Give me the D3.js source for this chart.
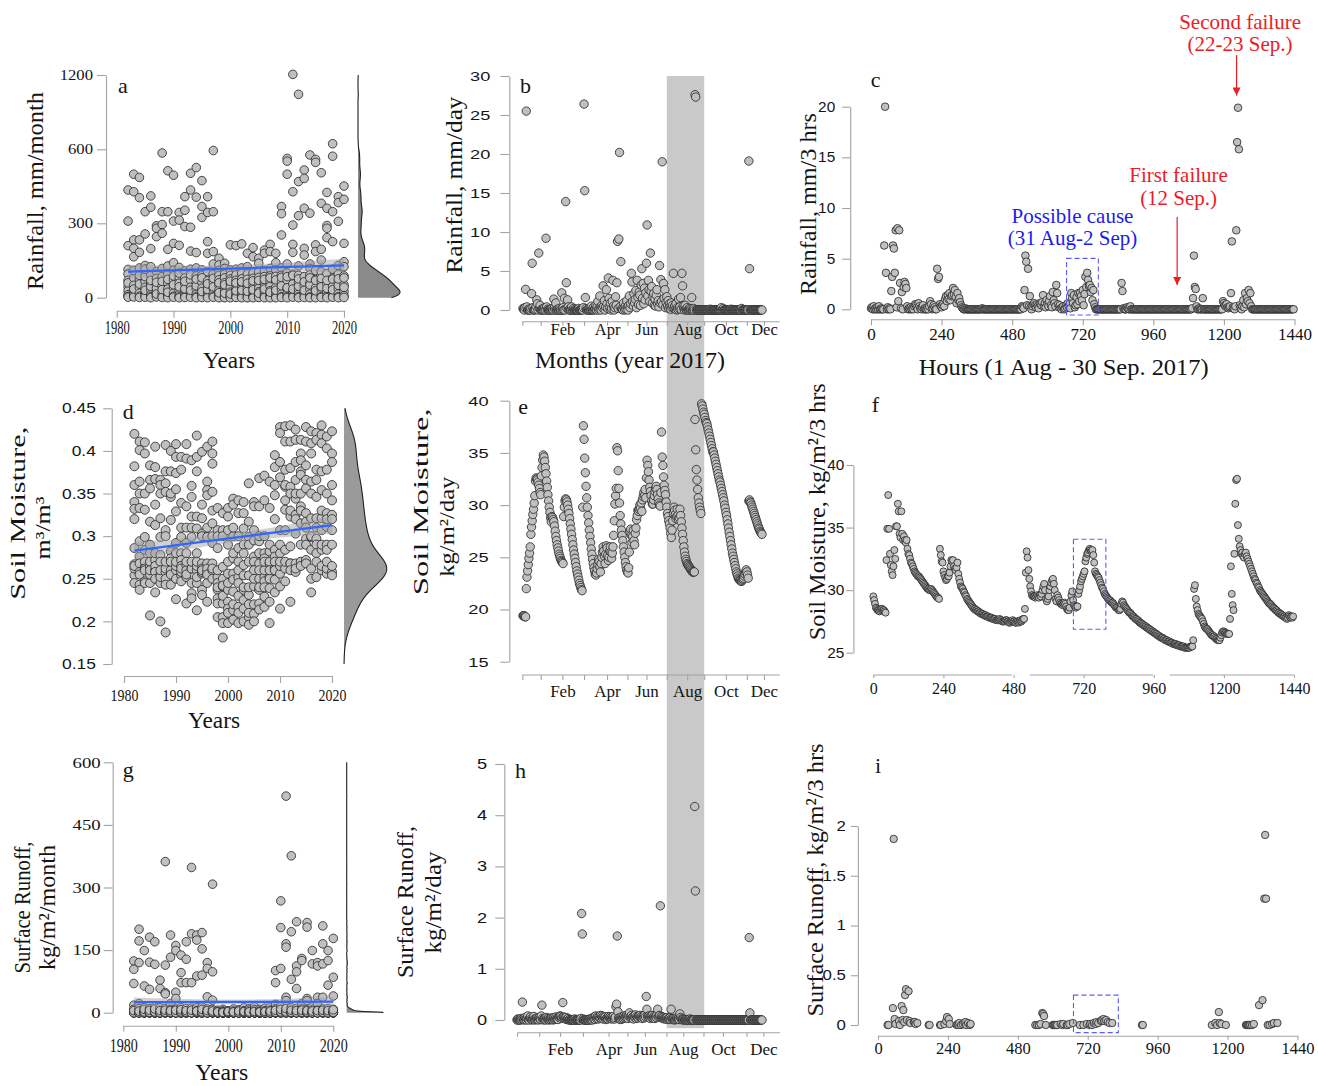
<!DOCTYPE html>
<html lang="en">
<head>
<meta charset="utf-8">
<title>Rainfall, soil moisture and surface runoff</title>
<script src="https://cdn.jsdelivr.net/npm/d3@7"></script>
<style>
  html, body { margin: 0; padding: 0; background: #fff; }
  svg { display: block; }
</style>
</head>
<body>
<svg id="fig" width="1318" height="1086"></svg>
<script>
// ======================= data =======================
// Monthly series, one row per year (12 monthly values per row)
const years = [1982, 1983, 1984, 1985, 1986, 1987, 1988, 1989, 1990, 1991, 1992, 1993, 1994,
  1995, 1996, 1997, 1998, 1999, 2000, 2001, 2002, 2003, 2004, 2005, 2006, 2007, 2008,
  2009, 2010, 2011, 2012, 2013, 2014, 2015, 2016, 2017, 2018, 2019, 2020];

// Rainfall, mm/month
const rainMonthly = [
  [435, 309, 210, 114, 95, 70, 45, 28, 12, 5, 2, 60],
  [499, 428, 233, 199, 165, 80, 50, 25, 10, 3, 35, 110],
  [486, 404, 233, 183, 120, 75, 40, 18, 6, 1, 55, 90],
  [347, 257, 130, 100, 65, 42, 20, 8, 2, 30, 85, 115],
  [411, 365, 198, 125, 90, 55, 30, 12, 4, 0, 45, 70],
  [290, 280, 246, 105, 78, 50, 25, 10, 3, 38, 62, 15],
  [585, 347, 295, 260, 118, 85, 48, 20, 7, 1, 33, 66],
  [513, 347, 195, 128, 96, 60, 35, 15, 5, 0, 22, 74],
  [495, 309, 219, 141, 110, 72, 40, 18, 6, 2, 52, 88],
  [344, 313, 211, 122, 84, 58, 30, 12, 3, 0, 44, 99],
  [408, 353, 287, 108, 80, 55, 28, 10, 4, 1, 36, 66],
  [503, 435, 284, 188, 115, 70, 42, 20, 6, 2, 30, 92],
  [526, 406, 182, 120, 88, 60, 35, 14, 5, 0, 48, 75],
  [473, 368, 324, 112, 90, 62, 38, 16, 4, 1, 25, 80],
  [408, 344, 226, 179, 105, 68, 40, 18, 6, 0, 33, 56],
  [595, 347, 186, 136, 95, 64, 36, 15, 5, 2, 44, 78],
  [159, 132, 110, 90, 72, 50, 30, 12, 3, 0, 20, 60],
  [139, 118, 95, 80, 60, 42, 25, 10, 2, 0, 18, 52],
  [213, 112, 90, 75, 58, 40, 22, 8, 2, 0, 15, 66],
  [210, 115, 92, 70, 52, 35, 20, 9, 3, 1, 28, 60],
  [217, 120, 98, 76, 55, 38, 24, 10, 2, 0, 30, 64],
  [179, 125, 96, 74, 50, 36, 20, 8, 1, 0, 26, 58],
  [202, 165, 100, 78, 56, 40, 22, 9, 3, 0, 32, 68],
  [159, 139, 105, 82, 60, 38, 24, 10, 2, 1, 18, 70],
  [192, 179, 110, 85, 62, 44, 26, 12, 4, 0, 35, 74],
  [215, 186, 118, 88, 66, 46, 28, 10, 3, 0, 22, 80],
  [179, 141, 112, 86, 64, 42, 25, 9, 2, 0, 30, 72],
  [368, 339, 253, 120, 90, 62, 35, 15, 4, 1, 48, 82],
  [563, 552, 499, 136, 100, 70, 38, 16, 5, 0, 40, 85],
  [1205, 428, 293, 215, 183, 95, 55, 24, 8, 2, 35, 90],
  [1044, 469, 331, 128, 90, 60, 32, 14, 4, 0, 46, 76],
  [516, 482, 361, 199, 172, 85, 48, 20, 6, 1, 30, 64],
  [577, 341, 136, 118, 92, 60, 34, 14, 3, 0, 52, 80],
  [559, 547, 213, 186, 110, 72, 40, 16, 5, 0, 28, 70],
  [505, 381, 195, 152, 105, 66, 36, 14, 4, 1, 44, 78],
  [425, 361, 291, 280, 242, 98, 55, 22, 6, 0, 38, 70],
  [645, 572, 347, 226, 115, 80, 45, 18, 5, 2, 32, 75],
  [408, 384, 308, 130, 95, 64, 36, 15, 4, 0, 50, 76],
  [451, 397, 219, 145, 125, 88, 52, 25, 8, 1, 42, 80]
];

// Soil moisture, m3/m3
const soilMonthly = [
  [0.42, 0.382, 0.36, 0.34, 0.332, 0.32, 0.286, 0.267, 0.254, 0.245, 0.262, 0.265],
  [0.411, 0.401, 0.364, 0.35, 0.333, 0.294, 0.276, 0.268, 0.243, 0.237, 0.258, 0.255],
  [0.41, 0.397, 0.331, 0.299, 0.284, 0.264, 0.247, 0.245, 0.27, 0.262, 0.26, 0.35],
  [0.383, 0.366, 0.356, 0.317, 0.28, 0.264, 0.245, 0.207, 0.27, 0.255, 0.26, 0.29],
  [0.405, 0.381, 0.367, 0.337, 0.313, 0.272, 0.26, 0.234, 0.265, 0.28, 0.258, 0.25],
  [0.366, 0.36, 0.321, 0.299, 0.278, 0.254, 0.245, 0.20, 0.35, 0.27, 0.252, 0.26],
  [0.407, 0.376, 0.362, 0.352, 0.307, 0.258, 0.25, 0.243, 0.187, 0.262, 0.30, 0.27],
  [0.40, 0.376, 0.346, 0.319, 0.282, 0.274, 0.258, 0.243, 0.26, 0.27, 0.255, 0.35],
  [0.408, 0.393, 0.374, 0.329, 0.292, 0.26, 0.25, 0.226, 0.265, 0.28, 0.27, 0.355],
  [0.393, 0.378, 0.339, 0.299, 0.28, 0.272, 0.254, 0.247, 0.31, 0.258, 0.265, 0.262],
  [0.408, 0.391, 0.335, 0.292, 0.28, 0.266, 0.252, 0.221, 0.26, 0.31, 0.27, 0.255],
  [0.389, 0.359, 0.346, 0.323, 0.299, 0.262, 0.245, 0.233, 0.227, 0.262, 0.31, 0.27],
  [0.418, 0.393, 0.376, 0.323, 0.309, 0.26, 0.245, 0.213, 0.265, 0.28, 0.27, 0.252],
  [0.399, 0.337, 0.321, 0.303, 0.268, 0.256, 0.237, 0.231, 0.258, 0.30, 0.262, 0.26],
  [0.405, 0.364, 0.354, 0.348, 0.299, 0.268, 0.258, 0.245, 0.223, 0.31, 0.262, 0.255],
  [0.411, 0.397, 0.385, 0.352, 0.315, 0.292, 0.268, 0.26, 0.262, 0.30, 0.25, 0.33],
  [0.333, 0.307, 0.286, 0.252, 0.237, 0.227, 0.221, 0.205, 0.26, 0.245, 0.24, 0.30],
  [0.327, 0.307, 0.264, 0.241, 0.221, 0.205, 0.198, 0.181, 0.25, 0.242, 0.23, 0.30],
  [0.333, 0.323, 0.307, 0.256, 0.237, 0.223, 0.215, 0.198, 0.27, 0.29, 0.245, 0.21],
  [0.344, 0.337, 0.274, 0.256, 0.249, 0.235, 0.213, 0.202, 0.30, 0.28, 0.22, 0.31],
  [0.342, 0.327, 0.286, 0.27, 0.252, 0.245, 0.217, 0.198, 0.30, 0.23, 0.26, 0.21],
  [0.34, 0.327, 0.309, 0.266, 0.254, 0.237, 0.225, 0.215, 0.29, 0.28, 0.20, 0.24],
  [0.362, 0.317, 0.299, 0.29, 0.254, 0.231, 0.205, 0.196, 0.22, 0.27, 0.24, 0.21],
  [0.34, 0.335, 0.307, 0.295, 0.276, 0.241, 0.209, 0.20, 0.27, 0.22, 0.26, 0.25],
  [0.368, 0.335, 0.294, 0.268, 0.25, 0.237, 0.221, 0.214, 0.28, 0.26, 0.24, 0.30],
  [0.371, 0.342, 0.28, 0.274, 0.252, 0.247, 0.229, 0.217, 0.26, 0.30, 0.24, 0.27],
  [0.364, 0.333, 0.282, 0.268, 0.252, 0.239, 0.223, 0.198, 0.27, 0.25, 0.29, 0.26],
  [0.395, 0.381, 0.36, 0.348, 0.284, 0.276, 0.249, 0.234, 0.262, 0.27, 0.26, 0.32],
  [0.428, 0.421, 0.387, 0.369, 0.307, 0.28, 0.256, 0.241, 0.215, 0.265, 0.29, 0.27],
  [0.429, 0.411, 0.378, 0.358, 0.342, 0.331, 0.307, 0.284, 0.247, 0.36, 0.262, 0.27],
  [0.43, 0.411, 0.38, 0.358, 0.323, 0.288, 0.268, 0.223, 0.35, 0.268, 0.26, 0.33],
  [0.425, 0.413, 0.387, 0.366, 0.344, 0.325, 0.303, 0.268, 0.258, 0.32, 0.262, 0.35],
  [0.413, 0.397, 0.389, 0.376, 0.372, 0.335, 0.315, 0.29, 0.27, 0.35, 0.265, 0.33],
  [0.428, 0.411, 0.383, 0.366, 0.356, 0.327, 0.317, 0.297, 0.272, 0.268, 0.31, 0.29],
  [0.423, 0.409, 0.397, 0.364, 0.321, 0.299, 0.284, 0.25, 0.234, 0.35, 0.262, 0.30],
  [0.421, 0.413, 0.378, 0.366, 0.346, 0.321, 0.297, 0.29, 0.28, 0.252, 0.31, 0.27],
  [0.43, 0.419, 0.409, 0.376, 0.354, 0.321, 0.307, 0.284, 0.26, 0.265, 0.33, 0.29],
  [0.417, 0.403, 0.378, 0.35, 0.327, 0.311, 0.29, 0.284, 0.256, 0.262, 0.32, 0.27],
  [0.423, 0.397, 0.387, 0.36, 0.342, 0.325, 0.307, 0.258, 0.254, 0.265, 0.32, 0.29]
];

// Surface runoff, kg/m2/month
const runoffMonthly = [
  [124, 104, 70, 18, 8, 3, 0, 0, 0, 0, 0, 5],
  [200, 172, 120, 22, 10, 2, 0, 0, 0, 0, 0, 4],
  [149, 64, 12, 5, 0, 0, 0, 0, 0, 0, 2, 8],
  [181, 121, 56, 10, 4, 0, 0, 0, 0, 0, 1, 6],
  [170, 116, 14, 6, 0, 0, 0, 0, 0, 0, 2, 9],
  [78, 58, 12, 3, 0, 0, 0, 0, 0, 0, 0, 5],
  [362, 114, 48, 45, 10, 2, 0, 0, 0, 0, 1, 6],
  [186, 133, 22, 8, 2, 0, 0, 0, 0, 0, 1, 5],
  [161, 149, 49, 34, 9, 3, 0, 0, 0, 0, 0, 6],
  [138, 96, 72, 12, 4, 0, 0, 0, 0, 0, 2, 7],
  [170, 128, 72, 10, 3, 0, 0, 0, 0, 0, 1, 5],
  [348, 189, 72, 11, 4, 0, 0, 0, 0, 0, 0, 6],
  [186, 174, 88, 12, 5, 0, 0, 0, 0, 0, 1, 4],
  [192, 153, 90, 14, 3, 0, 0, 0, 0, 0, 2, 8],
  [120, 106, 38, 9, 2, 0, 0, 0, 0, 0, 0, 5],
  [308, 98, 30, 8, 3, 0, 0, 0, 0, 0, 1, 4],
  [6, 3, 1, 0, 0, 0, 0, 0, 0, 0, 0, 2],
  [8, 4, 2, 0, 0, 0, 0, 0, 0, 0, 0, 1],
  [5, 2, 0, 0, 0, 0, 0, 0, 0, 0, 1, 3],
  [9, 4, 1, 0, 0, 0, 0, 0, 0, 0, 0, 2],
  [7, 3, 1, 0, 0, 0, 0, 0, 0, 0, 0, 4],
  [12, 5, 2, 0, 0, 0, 0, 0, 0, 0, 1, 3],
  [10, 6, 1, 0, 0, 0, 0, 0, 0, 0, 0, 2],
  [14, 7, 2, 0, 0, 0, 0, 0, 0, 0, 0, 3],
  [8, 4, 1, 0, 0, 0, 0, 0, 0, 0, 1, 2],
  [11, 5, 2, 0, 0, 0, 0, 0, 0, 0, 0, 3],
  [13, 6, 2, 0, 0, 0, 0, 0, 0, 0, 0, 4],
  [101, 72, 20, 9, 3, 0, 0, 0, 0, 0, 1, 6],
  [268, 204, 106, 15, 5, 0, 0, 0, 0, 0, 2, 8],
  [519, 165, 157, 37, 29, 8, 0, 0, 0, 0, 2, 10],
  [376, 194, 80, 12, 4, 0, 0, 0, 0, 0, 1, 6],
  [218, 112, 98, 58, 10, 3, 0, 0, 0, 0, 0, 5],
  [130, 125, 22, 9, 2, 0, 0, 0, 0, 0, 1, 6],
  [216, 205, 34, 29, 8, 2, 0, 0, 0, 0, 1, 5],
  [149, 117, 14, 7, 2, 0, 0, 0, 0, 0, 0, 4],
  [120, 112, 37, 22, 6, 1, 0, 0, 0, 0, 0, 5],
  [208, 165, 117, 37, 9, 2, 0, 0, 0, 0, 1, 6],
  [149, 125, 66, 10, 3, 0, 0, 0, 0, 0, 0, 5],
  [178, 85, 40, 8, 2, 0, 0, 0, 0, 0, 1, 7]
];

// Daily series for 2017, day-of-year index 0..364
const rainDaily = [
  0.2, 0.1, 0, 0.3, 2.65, 25.5, 0.4, 0, 0, 0.1,
  0, 0, 0.2, 2.1, 6, 0.3, 0, 0, 0, 0.1,
  0.5, 1.3, 0.8, 0, 7.3, 0.2, 0.6, 0, 0, 0.1,
  0, 0.2, 0, 0.3, 0, 9.2, 0.4, 0, 0.1, 0,
  0, 0, 0.1, 0, 0.2, 0, 0, 1.4, 0.3, 0,
  0.9, 0, 0, 0.1, 0, 0, 0.2, 0, 0, 2.2,
  0, 0.3, 0, 1.5, 0, 13.9, 3.5, 0.2, 1.3, 0.4,
  0, 0.1, 0, 0, 0.4, 0, 0, 0.2, 0, 0,
  0, 0.1, 0, 0, 0, 0.2, 0, 0, 0, 0,
  0.1, 0, 0.3, 26.4, 15.3, 1.6, 0.2, 0, 0, 0.1,
  0, 0, 0.2, 0, 0.5, 0, 0, 0.3, 0, 0.1,
  0.2, 0.6, 0, 0.4, 1.1, 0, 0.2, 1.8, 0.4, 0,
  0.6, 0.3, 3.1, 0.5, 1.2, 0, 0.4, 2.6, 0.8, 0.2,
  4.1, 1.5, 0.3, 0.9, 0, 0.2, 1.1, 3.8, 0.5, 0,
  0.3, 1.7, 0.6, 3.5, 8.8, 0.2, 9.1, 20.2, 0.4, 6.2,
  0.1, 0.2, 0, 0.9, 0.3, 0, 0.5, 0.1, 1.2, 0.4,
  0, 0.6, 1.8, 0.3, 0.8, 4.7, 3.6, 1.1, 0.5, 2.1,
  0.9, 1.4, 2.5, 0.3, 3.8, 1.6, 0.7, 2.3, 1.9, 0.6,
  3.2, 5.3, 1.5, 3.4, 0.8, 2.8, 1.3, 2.2, 6, 10.9,
  1.8, 3.8, 2.6, 1.1, 7.3, 2.4, 3, 0.9, 1.7, 2.1,
  0.6, 1.4, 0.5, 1.9, 2.6, 0.8, 1.2, 0.4, 5.7, 0.9,
  3.9, 1.1, 19, 0.7, 3.4, 1.5, 2.6, 0.3, 1, 1.7,
  0.5, 1.2, 0.2, 0.8, 0.4, 0.1, 0.9, 0.3, 0.6, 4.7,
  0.2, 0.5, 0.1, 0.8, 0, 0.3, 0.1, 1.4, 0.2, 0.4,
  1.6, 0.1, 4.7, 3.1, 0.5, 0.2, 0, 0.6, 0.1, 0,
  0.3, 0, 0.1, 0, 0.2, 0, 0.1, 1.6, 0, 0,
  0.2, 0, 27.6, 27.3, 0, 0, 0, 0, 0, 0,
  0, 0, 0, 0, 0, 0, 0, 0, 0, 0,
  0, 0, 0, 0, 0, 0.1, 0, 0, 0, 0,
  0, 0, 0, 0, 0, 0, 0, 0, 0, 0,
  0, 0, 0.3, 0, 0, 0.2, 0, 0, 0, 0,
  0, 0, 0, 0, 0, 0, 0, 0.1, 0, 0,
  0, 0, 0, 0, 0, 0, 0, 0, 0, 0,
  0, 0, 0, 0.2, 0, 0, 0, 0, 0, 0,
  0, 0, 0, 0, 19.1, 5.3, 0, 0, 0, 0,
  0, 0, 0, 0, 0, 0, 0, 0, 0, 0,
  0, 0, 0, 0, 0
];

const soilDaily = [
  19.4, 19.4, 19.4, 19.3, 19.3, 22.0, 23.1, 23.7, 24.3, 24.9,
  25.4, 26.0, 27.2, 27.9, 28.5, 29.1, 29.6, 30.2, 30.9, 32.3,
  32.6, 32.5, 32.4, 32.2, 31.9, 31.6, 31.2, 31.0, 32.8, 33.6,
  34.3, 34.8, 34.6, 34.2, 33.6, 33.0, 32.3, 31.7, 31.0, 30.4,
  29.8, 29.3, 28.8, 28.4, 28.9, 28.8, 28.6, 28.4, 28.0, 27.5,
  27.0, 26.6, 26.2, 25.9, 25.6, 25.3, 25.1, 24.9, 24.7, 24.6,
  24.5, 24.4, 28.9, 29.8, 30.4, 30.6, 30.5, 30.3, 30.0, 29.6,
  29.2, 28.7, 28.2, 27.7, 27.2, 26.7, 26.2, 25.7, 25.3, 24.9,
  24.5, 24.1, 23.7, 23.4, 23.1, 22.8, 22.5, 22.3, 22.1, 21.9,
  21.8, 29.8, 37.6, 36.3, 34.5, 33.1, 31.8, 30.7, 29.8, 29.0,
  28.3, 27.6, 27.0, 26.4, 25.8, 25.3, 24.8, 24.4, 24.0, 23.7,
  23.4, 23.3, 23.5, 23.9, 24.3, 24.8, 24.6, 24.1, 23.6, 24.4,
  25.0, 25.5, 26.0, 25.6, 25.1, 24.4, 25.3, 26.1, 25.9, 25.2,
  24.7, 25.0, 25.6, 26.0, 25.5, 24.9, 25.4, 26.0, 27.1, 28.5,
  30.1, 30.9, 31.6, 35.5, 35.2, 33.3, 31.6, 30.2, 29.0, 28.2,
  27.6, 27.1, 26.6, 26.0, 25.5, 25.0, 24.5, 24.1, 23.8, 23.6,
  23.5, 24.0, 25.5, 27.4, 27.7, 27.1, 26.4, 27.0, 27.6, 26.6,
  26.2, 27.3, 27.8, 28.6, 29.0, 29.5, 29.4, 29.6, 30.0, 29.7,
  30.2, 29.4, 30.5, 30.8, 31.2, 30.9, 31.5, 30.7, 32.6, 34.3,
  33.8, 33.2, 32.4, 31.7, 31.3, 30.9, 30.4, 30.1, 30.1, 30.5,
  30.9, 31.3, 31.6, 31.8, 31.5, 31.0, 30.6, 30.2, 30.0, 29.9,
  31.2, 37.0, 34.6, 33.8, 32.7, 31.9, 31.4, 31.0, 30.3, 29.8,
  29.2, 28.9, 28.5, 28.2, 27.8, 27.3, 26.9, 27.6, 28.5, 29.2,
  29.8, 29.5, 29.1, 28.7, 28.9, 29.6, 29.0, 28.6, 28.8, 29.6,
  29.0, 28.4, 27.8, 27.2, 26.6, 26.0, 25.5, 25.1, 24.8, 24.6,
  24.4, 24.3, 24.2, 24.1, 24.0, 23.9, 23.8, 23.7, 23.6, 23.6,
  23.6, 23.6, 38.2, 35.3, 33.4, 32.4, 31.5, 30.7, 30.2, 29.8,
  29.5, 29.2, 39.7, 39.5, 39.2, 38.9, 38.7, 38.4, 38.1, 37.9,
  37.8, 37.5, 37.2, 36.9, 36.6, 36.3, 36.0, 35.7, 35.4, 35.1,
  35.1, 34.8, 34.5, 34.2, 33.9, 33.6, 33.3, 33.0, 32.7, 32.4,
  32.2, 31.9, 31.6, 31.3, 31.0, 30.7, 30.4, 30.0, 29.7, 29.3,
  29.0, 28.6, 28.2, 27.8, 27.4, 27.0, 26.6, 26.2, 25.8, 25.4,
  25.1, 24.8, 24.5, 24.2, 23.9, 23.6, 23.4, 23.2, 23.0, 22.9,
  22.8, 22.8, 22.7, 22.7, 22.8, 22.9, 23.0, 23.2, 23.4, 23.6,
  23.8, 23.6, 23.3, 23.0, 30.4, 30.5, 30.3, 30.2, 30.0, 29.8,
  29.6, 29.4, 29.2, 29.0, 28.8, 28.6, 28.4, 28.2, 28.0, 27.8,
  27.7, 27.5, 27.4, 27.3, 27.2
];

const runoffDaily = [
  0, 0.02, 0, 0.01, 0, 0, 0.03, 0.01, 0.35, 0.02,
  0, 0.01, 0.05, 0.02, 0, 0.03, 0.08, 0.01, 0, 0.04,
  0.06, 0.02, 0, 0.01, 0.03, 0.07, 0.02, 0, 0.01, 0.04,
  0.02, 0.01, 0, 0.05, 0.02, 0.01, 0.08, 0.29, 0.03, 0,
  0.02, 0.01, 0.04, 0, 0.05, 0.02, 0.01, 0.03, 0, 0.02,
  0.01, 0.04, 0.03, 0, 0.02, 0.05, 0.01, 0.03, 0.06, 0.02,
  0.04, 0.01, 0.06, 0.05, 0.08, 0.07, 0.03, 0.05, 0.34, 0.06,
  0.04, 0.03, 0.02, 0.05, 0.01, 0.02, 0.03, 0, 0.01, 0,
  0, 0, 0.01, 0, 0, 0, 0.02, 0, 0, 0,
  0, 0.01, 0, 0, 0, 0.03, 2.08, 1.68, 0.02, 0,
  0, 0, 0, 0, 0.01, 0, 0, 0, 0.02, 0,
  0.01, 0.03, 0, 0.05, 0.02, 0.06, 0.01, 0.08, 0.03, 0.05,
  0.07, 0.02, 0.06, 0.04, 0.09, 0.03, 0.08, 0.05, 0.02, 0.07,
  0.04, 0.06, 0.01, 0.03, 0.05, 0.02, 0.07, 0.04, 0.06, 0.03,
  0.05, 0.02, 0.04, 0.07, 0.03, 0.02, 0.05, 0.26, 0.31, 1.64,
  0.16, 0.04, 0.02, 0.03, 0.01, 0.06, 0.02, 0.05, 0.03, 0.08,
  0.04, 0.07, 0.05, 0.09, 0.06, 0.03, 0.08, 0.14, 0.05, 0.07,
  0.09, 0.04, 0.06, 0.02, 0.08, 0.05, 0.1, 0.03, 0.07, 0.05,
  0.04, 0.08, 0.06, 0.09, 0.05, 0.07, 0.03, 0.06, 0.08, 0.04,
  0.1, 0.06, 0.46, 0.21, 0.07, 0.05, 0.08, 0.06, 0.03, 0.07,
  0.05, 0.09, 0.04, 0.06, 0.08, 0.03, 0.07, 0.05, 0.1, 0.21,
  0.06, 0.08, 0.09, 2.23, 0.07, 0.04, 0.06, 0.03, 0.05, 0.02,
  0.04, 0.03, 0.02, 0.05, 0.01, 0.03, 0.02, 0.04, 0.01, 0.21,
  0.03, 0.02, 0.01, 0.03, 0, 0.02, 0.01, 0.04, 0.02, 0.01,
  0.03, 0.01, 0.12, 0.05, 0.02, 0.01, 0, 0.02, 0.01, 0,
  0.01, 0, 0.01, 0, 0, 0.01, 0, 0.02, 0, 0,
  0, 0, 0, 0, 4.17, 2.52, 0, 0, 0, 0,
  0, 0, 0, 0, 0, 0, 0, 0, 0, 0,
  0, 0, 0, 0, 0, 0, 0, 0, 0, 0,
  0, 0, 0, 0, 0, 0, 0, 0, 0, 0,
  0, 0, 0, 0, 0, 0, 0, 0, 0, 0,
  0, 0, 0, 0, 0, 0, 0, 0, 0, 0,
  0, 0, 0, 0, 0, 0, 0, 0, 0, 0,
  0, 0, 0, 0, 0, 0, 0, 0, 0, 0,
  0, 0, 0, 0, 0, 1.61, 0.14, 0, 0, 0,
  0, 0, 0, 0, 0, 0, 0, 0, 0, 0,
  0, 0, 0, 0, 0
];

// 3-hourly series, 1 Aug - 30 Sep 2017 (one value every 3 hours, 16 per row = 2 days)
const rain3h = [
  0.1, 0.2, 0, 0.3, 0, 0.1, 0, 0.2, 0, 0.3, 0, 0, 0.1, 0, 0, 6.3,
  20.0, 3.6, 0, 0.2, 0, 0.1, 0, 1.8, 3.2, 6.3, 6.0, 3.6, 7.8, 0.2, 8.0, 0.8,
  7.8, 2.6, 0.1, 1.7, 0, 2.2, 2.7, 2.5, 2.1, 0.3, 0, 0.1, 0, 0.2, 0, 0.1,
  0, 0.3, 0.5, 0.4, 0.2, 0, 0.6, 0.3, 0.1, 0, 0.2, 0.4, 0, 0.1, 0, 0,
  0.2, 0, 0.3, 0.8, 0.5, 0, 0.1, 0.4, 0.2, 0, 0, 4.0, 3.0, 3.2, 0.5, 0.3,
  0.2, 0.4, 0.6, 0.3, 1.0, 1.3, 0.8, 1.4, 1.0, 1.6, 0.9, 1.3, 1.4, 2.1, 1.5, 1.9,
  1.2, 0.6, 1.6, 0.9, 1.1, 0.7, 0.4, 0.2, 0.1, 0, 0, 0.1, 0, 0, 0, 0,
  0, 0, 0, 0, 0, 0, 0, 0, 0, 0, 0, 0, 0, 0, 0.1, 0,
  0, 0, 0, 0, 0, 0, 0, 0, 0, 0, 0, 0, 0, 0, 0, 0,
  0, 0, 0, 0, 0, 0, 0, 0, 0, 0, 0, 0, 0, 0, 0, 0,
  0, 0, 0, 0, 0, 0, 0, 0, 0, 0, 0, 0.3, 0.2, 0.1, 1.9, 5.3,
  4.7, 0.4, 4.0, 0.3, 1.3, 0.2, 0, 0.3, 0.5, 0.6, 0.4, 0.2, 0.5, 0.3, 0.1, 0.6,
  0.5, 0.4, 0.7, 1.4, 0.3, 0.6, 0.2, 0.9, 0.5, 0.3, 0.8, 1.3, 0.4, 0.2, 1.7, 0.9,
  0.6, 0.3, 2.4, 1.6, 0.5, 0.2, 0.4, 0.1, 0, 0.2, 0.3, 0, 0.1, 0.4, 0.2, 0.6,
  0.3, 0.5, 0.1, 1.6, 1.1, 0.6, 1.4, 0.2, 0.4, 1.2, 0.5, 1.6, 0.8, 1.6, 1.3, 0.9,
  1.9, 0.4, 1.5, 3.2, 2.2, 3.6, 2.9, 2.3, 2.4, 1.7, 2.1, 0.9, 1.9, 0.5, 0.2, 0,
  0, 0, 0, 0, 0, 0, 0, 0, 0, 0, 0, 0, 0, 0, 0, 0,
  0, 0, 0, 0, 0, 0, 0, 0, 0, 0, 0, 0, 2.6, 1.8, 0.1, 0,
  0, 0, 0.2, 0.1, 0, 0, 0.3, 0, 0, 0, 0, 0, 0, 0, 0, 0,
  0, 0, 0, 0, 0, 0, 0, 0, 0, 0, 0, 0, 0, 0, 0, 0,
  0, 0, 0, 0, 0, 0, 0, 0, 0, 0, 0, 0, 0, 0, 0, 0,
  0, 0, 0, 0, 0, 0, 0, 0, 0, 0, 0, 0, 0, 0, 0, 0,
  0, 0, 0, 0, 0, 0, 0, 0, 0, 0, 0, 0, 0.1, 1.1, 5.3, 2.2,
  2.0, 0.3, 0, 0, 0.1, 0, 0, 0, 1.1, 0, 0, 0, 0, 0, 0, 0,
  0, 0, 0, 0, 0, 0, 0, 0, 0, 0, 0, 0, 0, 0, 0, 0.8,
  0.6, 0.4, 0.3, 0.5, 0.2, 0.1, 0.2, 0.3, 1.6, 6.7, 0.2, 0.1, 0, 0.3, 7.8, 16.5,
  19.9, 15.8, 0.4, 0.2, 0, 0.3, 0.9, 0.2, 1.6, 0.5, 1.1, 0.8, 1.9, 0.6, 1.6, 0.3,
  0, 0, 0, 0, 0, 0, 0, 0, 0, 0, 0, 0, 0, 0, 0, 0,
  0, 0, 0, 0, 0, 0, 0, 0, 0, 0, 0, 0, 0, 0, 0, 0,
  0, 0, 0, 0, 0, 0, 0, 0, 0, 0, 0, 0, 0, 0, 0, 0
];

const soil3h = [
  29.5, 29.2, 28.9, 28.6, 28.5, 28.4, 28.4, 28.3, 28.4, 28.5, 28.5, 28.4, 28.4, 28.3, 28.2, 32.4,
  34.9, 37.6, 34.9, 32.9, 32.0, 31.5, 31.2, 31.9, 33.2, 32.5, 35.1, 35.1, 36.9, 36.3, 34.5, 34.2,
  36.3, 34.5, 34.0, 34.3, 34.0, 33.8, 34.0, 33.3, 32.9, 32.8, 32.5, 32.2, 32.1, 31.9, 31.7, 31.5,
  31.4, 31.3, 31.2, 31.1, 31.1, 31.0, 30.9, 30.8, 30.7, 30.6, 30.5, 30.4, 30.3, 30.2, 30.1, 30.1,
  30.0, 30.0, 30.1, 30.0, 29.9, 29.8, 29.7, 29.6, 29.5, 29.4, 29.4, 29.3, 33.3, 32.8, 32.3, 32.2,
  31.5, 31.2, 31.0, 30.8, 30.9, 31.1, 31.1, 31.4, 31.9, 32.4, 32.3, 32.4, 31.9, 31.7, 31.6, 31.8,
  32.2, 31.3, 30.9, 30.6, 30.3, 30.2, 30.1, 29.9, 29.8, 29.6, 29.5, 29.3, 29.2, 29.1, 29.0, 28.9,
  28.8, 28.7, 28.6, 28.5, 28.5, 28.4, 28.4, 28.3, 28.3, 28.2, 28.2, 28.1, 28.1, 28.1, 28.0, 28.0,
  28.0, 27.9, 27.9, 27.9, 27.8, 27.8, 27.8, 27.8, 27.7, 27.7, 27.7, 27.7, 27.6, 27.6, 27.6, 27.6,
  27.7, 27.6, 27.6, 27.5, 27.5, 27.5, 27.5, 27.6, 27.6, 27.5, 27.5, 27.4, 27.4, 27.5, 27.5, 27.6,
  27.5, 27.5, 27.4, 27.4, 27.5, 27.5, 27.4, 27.5, 27.6, 27.5, 27.6, 27.7, 27.7, 28.5, 31.4, 33.1,
  32.6, 31.6, 30.9, 30.3, 29.9, 29.6, 29.5, 29.5, 29.5, 29.4, 29.5, 29.6, 29.5, 29.4, 29.6, 29.5,
  29.7, 30.0, 30.3, 30.5, 30.0, 29.3, 29.1, 29.3, 29.5, 30.0, 30.3, 30.6, 30.8, 30.9, 30.5, 30.0,
  29.3, 29.1, 29.6, 29.4, 29.2, 29.0, 28.9, 28.9, 28.8, 28.9, 29.0, 28.9, 28.7, 28.5, 28.4, 28.4,
  28.6, 29.1, 29.6, 29.9, 29.2, 28.8, 28.7, 28.6, 28.7, 28.7, 29.7, 30.0, 30.3, 30.7, 30.9, 31.1,
  31.3, 31.5, 32.3, 32.6, 32.9, 33.0, 33.2, 33.3, 33.2, 33.1, 33.2, 32.8, 32.2, 31.5, 31.3, 31.2,
  31.1, 31.0, 30.8, 30.6, 30.4, 30.2, 30.1, 29.9, 29.7, 29.6, 29.5, 29.4, 29.3, 29.2, 29.2, 29.1,
  29.0, 29.0, 28.9, 28.8, 28.7, 28.6, 28.6, 28.5, 28.4, 28.4, 28.5, 28.9, 29.1, 29.0, 28.8, 28.7,
  28.6, 28.5, 28.4, 28.3, 28.2, 28.2, 28.1, 28.0, 27.9, 27.9, 27.8, 27.7, 27.7, 27.6, 27.6, 27.5,
  27.4, 27.4, 27.3, 27.3, 27.2, 27.2, 27.1, 27.1, 27.0, 27.0, 26.9, 26.9, 26.8, 26.8, 26.7, 26.7,
  26.6, 26.6, 26.5, 26.5, 26.4, 26.4, 26.3, 26.3, 26.2, 26.2, 26.2, 26.1, 26.1, 26.0, 26.0, 26.0,
  25.9, 25.9, 25.9, 25.8, 25.8, 25.8, 25.7, 25.7, 25.7, 25.7, 25.6, 25.6, 25.6, 25.6, 25.5, 25.5,
  25.5, 25.5, 25.5, 25.4, 25.4, 25.4, 25.4, 25.4, 25.4, 25.4, 25.5, 25.5, 25.5, 26.0, 30.1, 30.4,
  29.3, 28.7, 28.4, 28.1, 28.0, 27.9, 27.8, 27.7, 27.5, 27.3, 27.1, 27.0, 26.9, 26.9, 26.8, 26.7,
  26.6, 26.5, 26.4, 26.4, 26.3, 26.3, 26.2, 26.1, 26.1, 26.0, 26.0, 26.0, 26.2, 26.4, 26.6, 26.7,
  26.7, 26.6, 26.6, 26.5, 26.5, 26.5, 26.5, 27.7, 31.9, 29.7, 28.8, 28.4, 32.9, 36.9, 38.8, 38.9,
  35.2, 34.1, 33.5, 33.2, 32.9, 33.0, 32.7, 32.6, 32.9, 33.0, 32.7, 32.5, 32.3, 32.1, 31.9, 31.7,
  31.5, 31.3, 31.1, 30.9, 30.8, 30.6, 30.5, 30.3, 30.2, 30.0, 29.9, 29.8, 29.7, 29.6, 29.5, 29.4,
  29.3, 29.2, 29.1, 29.0, 28.9, 28.9, 28.8, 28.7, 28.6, 28.6, 28.5, 28.4, 28.4, 28.3, 28.2, 28.2,
  28.1, 28.1, 28.0, 28.0, 27.9, 27.9, 27.8, 27.8, 27.7, 27.8, 28.0, 27.9, 27.8, 27.9, 27.8, 27.9
];

// Surface runoff, kg/m2/3 hrs: only the time steps that report runoff ([hour, value])
const runoff3h = [
  [33, 0], [36, 0], [51, 0.17], [54, 1.87], [57, 0.06], [60, 0.01], [72, 0.04], [75, 0],
  [81, 0.19], [84, 0.05], [87, 0.15], [90, 0.03], [93, 0.3], [96, 0.36], [99, 0.05],
  [105, 0.34], [108, 0.04], [111, 0.02], [123, 0.03], [126, 0.03], [129, 0.01], [135, 0.02],
  [174, 0], [177, 0], [213, 0], [216, 0], [228, 0.01], [234, 0.04], [237, 0.08], [243, 0.06],
  [246, 0.01], [270, 0], [273, 0.01], [276, 0], [279, 0.02], [285, 0], [291, 0.01],
  [297, 0.02], [300, 0.03], [303, 0], [309, 0.02], [315, 0], [318, 0.01],
  [540, 0], [546, 0], [552, 0], [558, 0.01], [564, 0.12], [567, 0.11], [570, 0.09], [576, 0],
  [600, 0], [603, 0], [606, 0], [609, 0], [612, 0], [615, 0], [627, 0.01], [633, 0],
  [636, 0.01], [648, 0], [651, 0], [657, 0.01], [669, 0.02], [693, 0], [705, 0], [717, 0.01],
  [726, 0], [729, 0.01], [735, 0], [741, 0.02], [747, 0.01], [750, 0.03], [756, 0.02],
  [765, 0.04], [768, 0.05], [774, 0.06], [777, 0.04], [783, 0.05], [789, 0.03], [795, 0.02],
  [804, 0.02], [906, 0], [909, 0],
  [1146, 0], [1158, 0.02], [1164, 0], [1170, 0.13], [1173, 0.02], [1179, 0.01], [1194, 0],
  [1263, 0], [1266, 0], [1269, 0], [1272, 0], [1275, 0], [1278, 0], [1284, 0], [1290, 0.01],
  [1308, 0.2], [1320, 0.25], [1326, 1.27], [1329, 1.91], [1332, 1.27], [1338, 0], [1344, 0],
  [1353, 0.01], [1359, 0.02], [1371, 0.02]
];

// Tick values and labels
const yearTicks = [1980, 1990, 2000, 2010, 2020];
const monthTickDays = [-1, 27, 60, 93, 128, 159, 188, 219, 250, 276, 309, 341, 367];
const monthTickDaysRunoff = [0, 33, 64, 98, 136, 164, 190, 222, 247, 277, 306, 341, 366];
const monthTickLabels = ["", "", "Feb", "", "Apr", "", "Jun", "", "Aug", "", "Oct", "", "Dec"];
const hourTicks = [0, 240, 480, 720, 960, 1200, 1440];
const rainMonthlyTicks = [0, 300, 600, 1200];
const soilMonthlyTicks = [0.15, 0.2, 0.25, 0.3, 0.35, 0.4, 0.45];
const runoffMonthlyTicks = [0, 150, 300, 450, 600];
const rainDailyTicks = [0, 5, 10, 15, 20, 25, 30];
const soilDailyTicks = [15, 20, 25, 30, 35, 40];
const runoffDailyTicks = [0, 1, 2, 3, 4, 5];
const rain3hTicks = [0, 5, 10, 15, 20];
const soil3hTicks = [25, 30, 35, 40];
const runoff3hTicks = [0, 0.5, 1, 1.5, 2];

// Highlighted windows
const studyWindowDays = [219, 276];                   // 1 Aug - 30 Sep on the daily axes
const causeWindowRain = [[665, 773], [-0.56, 5.03]];  // [hours], [values]
const causeWindowSoil = [[685, 796], [26.87, 34.07]];
const causeWindowRunoff = [[671, 825], [-0.077, 0.30]];

// ======================= drawing =======================
const SERIF = '"Liberation Serif", "Times New Roman", Times, serif';
const SANS = '"Liberation Sans", Arial, Helvetica, sans-serif';
const AXIS = '#a3a3a3';
const INK = '#141414';
const DOT_FILL = '#c0c0c0';
const DOT_STROKE = '#2a2a2a';
const RED = '#ec1c24';
const BLUE = '#1c1cf0';

const svg = d3.select('#fig');
svg.append('rect').attr('width', 1318).attr('height', 1086).attr('fill', '#fff');

function styleTicks(g, o) {
  g.select('.domain').attr('stroke', AXIS).attr('stroke-width', 1.1);
  g.selectAll('.tick line').attr('stroke', AXIS).attr('stroke-width', 1.1);
  const t = g.selectAll('.tick text').attr('fill', INK)
    .style('font-family', o.font).style('font-size', o.size + 'px');
  if (o.sx && o.sx !== 1) {
    t.attr('transform', function () {
      const x = +this.getAttribute('x') || 0;
      return `translate(${x},0) scale(${o.sx},1) translate(${-x},0)`;
    });
  }
}

function leftAxis(scale, x, ticks, o) {
  const g = svg.append('g').attr('transform', `translate(${x},0)`)
    .call(d3.axisLeft(scale).tickValues(ticks).tickSize(o.tick).tickSizeOuter(0)
      .tickPadding(o.pad).tickFormat(o.fmt || (d => String(d))));
  styleTicks(g, o);
  return g;
}

function bottomAxis(scale, y, ticks, o) {
  const g = svg.append('g').attr('transform', `translate(0,${y})`)
    .call(d3.axisBottom(scale).tickValues(ticks).tickSize(o.tick).tickSizeOuter(0)
      .tickFormat(o.fmt || (d => String(d))));
  g.selectAll('.tick text').attr('y', o.base).attr('dy', null);
  styleTicks(g, o);
  if (o.noDomain) g.select('.domain').remove();
  return g;
}

function axisLine(x1, x2, y) {
  svg.append('line').attr('x1', x1).attr('x2', x2).attr('y1', y).attr('y2', y)
    .attr('stroke', AXIS).attr('stroke-width', 1.1);
}

function dots(points, xs, ys, r) {
  svg.append('g').selectAll('circle').data(points).join('circle')
    .attr('cx', d => xs(d[0])).attr('cy', d => ys(d[1])).attr('r', r)
    .attr('fill', DOT_FILL).attr('stroke', DOT_STROKE).attr('stroke-width', 0.85);
}

function text(str, x, y, o = {}) {
  const t = svg.append('text').attr('x', x).attr('y', y).text(str)
    .attr('fill', o.color || INK).attr('text-anchor', o.anchor || 'middle')
    .style('font-family', o.font || SERIF).style('font-size', (o.size || 24) + 'px');
  if (o.len) t.attr('textLength', o.len).attr('lengthAdjust', 'spacingAndGlyphs');
  return t;
}

function vtext(str, cx, cy, o = {}) {
  const t = svg.append('text').attr('transform', `translate(${cx},${cy}) rotate(-90)`)
    .attr('dy', '0.35em').text(str).attr('fill', INK).attr('text-anchor', 'middle')
    .style('font-family', o.font || SERIF).style('font-size', (o.size || 24) + 'px');
  if (o.len) t.attr('textLength', o.len).attr('lengthAdjust', 'spacingAndGlyphs');
  return t;
}

// flatten a year x month table into [year, value] pairs
function monthlyPoints(table) {
  return years.flatMap((yr, i) => table[i].map(v => [yr, v]));
}

// ordinary least squares with a 95% confidence ribbon
function trend(points, xs, ys, x0, x1) {
  const n = points.length;
  const mx = d3.mean(points, p => p[0]), my = d3.mean(points, p => p[1]);
  let sxx = 0, sxy = 0;
  for (const [x, y] of points) { sxx += (x - mx) ** 2; sxy += (x - mx) * (y - my); }
  const b = sxy / sxx, a = my - b * mx;
  let sse = 0;
  for (const [x, y] of points) sse += (y - a - b * x) ** 2;
  const s = Math.sqrt(sse / (n - 2));
  const se = x => s * Math.sqrt(1 / n + (x - mx) ** 2 / sxx);
  const fit = x => a + b * x;
  const grid = d3.range(0, 41).map(i => x0 + (x1 - x0) * i / 40);
  const t = 1.965;
  svg.append('path').datum(grid)
    .attr('d', d3.area().x(x => xs(x)).y0(x => ys(fit(x) - t * se(x))).y1(x => ys(fit(x) + t * se(x))))
    .attr('fill', '#9c9c9c').attr('opacity', 0.45);
  svg.append('path').datum([x0, x1])
    .attr('d', d3.line().x(x => xs(x)).y(x => ys(fit(x))))
    .attr('fill', 'none').attr('stroke', '#3366ff').attr('stroke-width', 2.3);
}

// Gaussian kernel density (Silverman bandwidth) drawn as a vertical margin plot
function marginDensity(values, ys, lo, hi, x0, width, fill) {
  const v = values.slice().sort(d3.ascending);
  const n = v.length, sd = d3.deviation(v);
  const iqr = d3.quantileSorted(v, 0.75) - d3.quantileSorted(v, 0.25);
  const spread = iqr > 0 ? Math.min(sd, iqr / 1.34) : sd;
  const bw = 0.9 * spread * Math.pow(n, -0.2);
  const k = 1 / (n * bw * Math.sqrt(2 * Math.PI));
  const grid = d3.range(0, 801).map(i => lo + (hi - lo) * i / 800);
  const dens = grid.map(g => {
    let s = 0;
    for (const x of v) { const z = (g - x) / bw; s += Math.exp(-0.5 * z * z); }
    return [g, s * k];
  });
  const m = d3.max(dens, d => d[1]);
  const xw = d => x0 + d[1] / m * width;
  svg.append('path').datum(dens)
    .attr('d', d3.area().y(d => ys(d[0])).x0(x0).x1(xw)).attr('fill', fill);
  svg.append('path').datum(dens)
    .attr('d', d3.line().y(d => ys(d[0])).x(xw))
    .attr('fill', 'none').attr('stroke', '#1e1e1e').attr('stroke-width', 1.1);
}

function dashedBox(win, xs, ys) {
  const [[h0, h1], [v0, v1]] = win;
  svg.append('rect').attr('x', xs(h0)).attr('y', ys(v1))
    .attr('width', xs(h1) - xs(h0)).attr('height', ys(v0) - ys(v1))
    .attr('fill', 'none').attr('stroke', '#5b5bff').attr('stroke-width', 1.1)
    .attr('stroke-dasharray', '5,3');
}

// ---------- shared scales for the daily column ----------
const xDay = d3.scaleLinear().domain([0, 364]).range([523, 762]);
const xDayRunoff = d3.scaleLinear().domain([0, 364]).range([517, 762]);
const yb = d3.scaleLinear().domain([0, 30]).range([310, 76]);
const ye = d3.scaleLinear().domain([15, 40]).range([661.7, 400.7]);
const yh = d3.scaleLinear().domain([0, 5]).range([1020, 764]);

// study window band across the daily column
svg.append('rect')
  .attr('x', xDay(studyWindowDays[0])).attr('y', yb(30))
  .attr('width', xDay(studyWindowDays[1]) - xDay(studyWindowDays[0]))
  .attr('height', yh(-0.16) - yb(30))
  .attr('fill', '#c9c9c9');

// ================= panel a: monthly rainfall =================
{
  const xs = d3.scaleLinear().domain([1980, 2020]).range([116.7, 344]);
  const ys = d3.scaleLinear().domain([0, 300, 600, 1200]).range([297.7, 223.3, 149.3, 75]);
  leftAxis(ys, 106, rainMonthlyTicks, { tick: 9, pad: 4, font: SERIF, size: 14.5, sx: 1.15 });
  bottomAxis(xs, 310.7, yearTicks, { tick: 7, base: 23.3, font: SERIF, size: 19, sx: 0.66 });
  const pts = monthlyPoints(rainMonthly);
  dots(pts, xs, ys, 4.3);
  trend(pts, xs, ys, 1982, 2020);
  marginDensity(pts.map(p => p[1]), ys, 0, 1200, 358, 42, '#8a8a8a');
  text('a', 118, 93.3, { anchor: 'start', size: 22 });
  vtext('Rainfall, mm/month', 35, 191, { len: 198 });
  text('Years', 229, 368.3, { len: 52 });
}

// ================= panel b: daily rainfall =================
{
  leftAxis(yb, 509.3, rainDailyTicks, { tick: 9, pad: 10, font: SANS, size: 13, sx: 1.4 });
  bottomAxis(xDay, 321.7, monthTickDays, { tick: 4, base: 13.5, font: SERIF, size: 16.5, noDomain: true,
    fmt: (d, i) => monthTickLabels[i] });
  axisLine(xDay(-1), xDay(391), 321.7);
  dots(rainDaily.map((v, i) => [i, v]), xDay, yb, 4.2);
  text('b', 520, 93.3, { anchor: 'start', size: 22 });
  vtext('Rainfall, mm/day', 453.3, 185, { len: 177 });
  text('Months (year 2017)', 630, 368.3, { len: 190 });
}

// ================= panel c: 3-hourly rainfall =================
{
  const xs = d3.scaleLinear().domain([0, 1440]).range([871, 1294.5]);
  const ys = d3.scaleLinear().domain([0, 20]).range([309.3, 106.7]);
  leftAxis(ys, 850.2, rain3hTicks, { tick: 8, pad: 7, font: SANS, size: 14, sx: 1.1 });
  bottomAxis(xs, 319.3, hourTicks, { tick: 6, base: 20.7, font: SERIF, size: 17 });
  dots(rain3h.map((v, i) => [i * 3, v]), xs, ys, 3.8);
  dashedBox(causeWindowRain, xs, ys);

  // annotations
  const defs = svg.append('defs');
  defs.append('marker').attr('id', 'arrowRed').attr('viewBox', '0 0 10 10')
    .attr('refX', 10).attr('refY', 5).attr('markerWidth', 9).attr('markerHeight', 8)
    .attr('markerUnits', 'userSpaceOnUse').attr('orient', 'auto')
    .append('path').attr('d', 'M0,0 L10,5 L0,10 z').attr('fill', RED);
  const arrow = (h, v0, v1) => svg.append('line')
    .attr('x1', xs(h)).attr('x2', xs(h)).attr('y1', ys(v0)).attr('y2', ys(v1))
    .attr('stroke', RED).attr('stroke-width', 1.2).attr('marker-end', 'url(#arrowRed)');
  arrow(1243, 25.1, 21.1);
  arrow(1041, 9.1, 2.4);
  text('Second failure', xs(1255), ys(27.7), { color: RED, size: 21 });
  text('(22-23 Sep.)', xs(1255), ys(25.5), { color: RED, size: 21 });
  text('First failure', xs(1046), ys(12.6), { color: RED, size: 21 });
  text('(12 Sep.)', xs(1046), ys(10.3), { color: RED, size: 21 });
  text('Possible cause', xs(685), ys(8.49), { color: BLUE, size: 21 });
  text('(31 Aug-2 Sep)', xs(685), ys(6.35), { color: BLUE, size: 21 });

  text('c', 870.7, 87.3, { anchor: 'start', size: 22 });
  vtext('Rainfall, mm/3 hrs', 807.7, 204, { len: 182 });
  text('Hours (1 Aug - 30 Sep. 2017)', 1063.7, 375, { len: 290 });
}

// ================= panel d: monthly soil moisture =================
{
  const xs = d3.scaleLinear().domain([1980, 2020]).range([124, 332]);
  const ys = d3.scaleLinear().domain([0.15, 0.45]).range([664, 408.3]);
  leftAxis(ys, 111.7, soilMonthlyTicks, { tick: 8.4, pad: 7.5, font: SANS, size: 14.5, sx: 1.2 });
  bottomAxis(xs, 676, yearTicks, { tick: 7, base: 24.7, font: SERIF, size: 17, sx: 0.82 });
  const pts = monthlyPoints(soilMonthly);
  dots(pts, xs, ys, 4.5);
  trend(pts, xs, ys, 1982, 2020);
  marginDensity(pts.map(p => p[1]), ys, 0.15, 0.45, 344, 42.7, '#9a9a9a');
  text('d', 122.7, 419.3, { anchor: 'start', size: 22 });
  vtext('Soil Moisture,', 17.5, 513.3, { len: 173, size: 22 });
  vtext('m\u00b3/m\u00b3', 42, 528, { len: 63, size: 22 });
  text('Years', 214, 728.3, { len: 52 });
}

// ================= panel e: daily soil moisture =================
{
  leftAxis(ye, 509.3, soilDailyTicks, { tick: 9, pad: 11.7, font: SANS, size: 13.5, sx: 1.35 });
  bottomAxis(xDay, 675, monthTickDays, { tick: 5, base: 21.7, font: SERIF, size: 17, noDomain: true,
    fmt: (d, i) => monthTickLabels[i] });
  axisLine(xDay(-1), xDay(391), 675);
  dots(soilDaily.map((v, i) => [i, v]), xDay, ye, 4.2);
  text('e', 518.3, 414, { anchor: 'start', size: 22 });
  vtext('Soil Moisture,', 420, 501.7, { len: 187, size: 22 });
  vtext('kg/m\u00b2/day', 446.7, 526.7, { len: 100, size: 22 });
}

// ================= panel f: 3-hourly soil moisture =================
{
  const xs = d3.scaleLinear().domain([0, 1440]).range([873.3, 1294]);
  const ys = d3.scaleLinear().domain([25, 40]).range([652.7, 465]);
  leftAxis(ys, 853.4, soil3hTicks, { tick: 7, pad: 2, font: SANS, size: 14, sx: 1.1 });
  bottomAxis(xs, 675, hourTicks, { tick: 3, base: 19, font: SERIF, size: 16, noDomain: true });
  [[0, 474], [536, 958], [1015, 1440]].forEach(([a, b]) => axisLine(xs(a), xs(b), 675));
  dots(soil3h.map((v, i) => [i * 3, v]), xs, ys, 3.5);
  dashedBox(causeWindowSoil, xs, ys);
  text('f', 871.7, 411.7, { anchor: 'start', size: 22 });
  vtext('Soil Moisture, kg/m\u00b2/3 hrs', 816.3, 511.7, { len: 257 });
}

// ================= panel g: monthly surface runoff =================
{
  const xs = d3.scaleLinear().domain([1980, 2020]).range([123.3, 333.3]);
  const ys = d3.scaleLinear().domain([0, 600]).range([1012.7, 762.3]);
  leftAxis(ys, 112.7, runoffMonthlyTicks, { tick: 9, pad: 3, font: SERIF, size: 15, sx: 1.25 });
  bottomAxis(xs, 1025.7, yearTicks, { tick: 6, base: 26, font: SERIF, size: 19.5, sx: 0.72 });
  const pts = monthlyPoints(runoffMonthly);
  dots(pts, xs, ys, 4.3);
  trend(pts, xs, ys, 1982, 2020);
  marginDensity(pts.map(p => p[1]), ys, 0, 600, 346.7, 36.6, '#8a8a8a');
  text('g', 122.7, 777.3, { anchor: 'start', size: 22 });
  vtext('Surface Runoff,', 21.7, 907.5, { len: 132, size: 23 });
  vtext('kg/m\u00b2/month', 46.7, 907.5, { len: 125, size: 23 });
  text('Years', 221.7, 1080, { len: 53 });
}

// ================= panel h: daily surface runoff =================
{
  leftAxis(yh, 504.3, runoffDailyTicks, { tick: 9, pad: 8.3, font: SANS, size: 14, sx: 1.3 });
  bottomAxis(xDayRunoff, 1032.7, monthTickDaysRunoff, { tick: 4, base: 22.3, font: SERIF, size: 17,
    noDomain: true, fmt: (d, i) => monthTickLabels[i] });
  axisLine(xDayRunoff(0.5), xDayRunoff(391), 1032.7);
  dots(runoffDaily.map((v, i) => [i, v]), xDayRunoff, yh, 4.2);
  text('h', 515, 778.3, { anchor: 'start', size: 22 });
  vtext('Surface Runoff,', 405, 902, { len: 152, size: 23 });
  vtext('kg/m\u00b2/day', 433.3, 902.5, { len: 102, size: 23 });
}

// ================= panel i: 3-hourly surface runoff =================
{
  const xs = d3.scaleLinear().domain([0, 1440]).range([878, 1297.5]);
  const ys = d3.scaleLinear().domain([0, 2]).range([1025, 826]);
  leftAxis(ys, 857.9, runoff3hTicks, { tick: 7, pad: 5, font: SANS, size: 14, sx: 1.2 });
  bottomAxis(xs, 1035.7, hourTicks, { tick: 4, base: 18.3, font: SERIF, size: 16.5 });
  dots(runoff3h, xs, ys, 3.7);
  dashedBox(causeWindowRunoff, xs, ys);
  text('i', 875, 772.7, { anchor: 'start', size: 22 });
  vtext('Surface Runoff, kg/m\u00b2/3 hrs', 814.6, 880, { len: 273 });
}
</script>
</body>
</html>
